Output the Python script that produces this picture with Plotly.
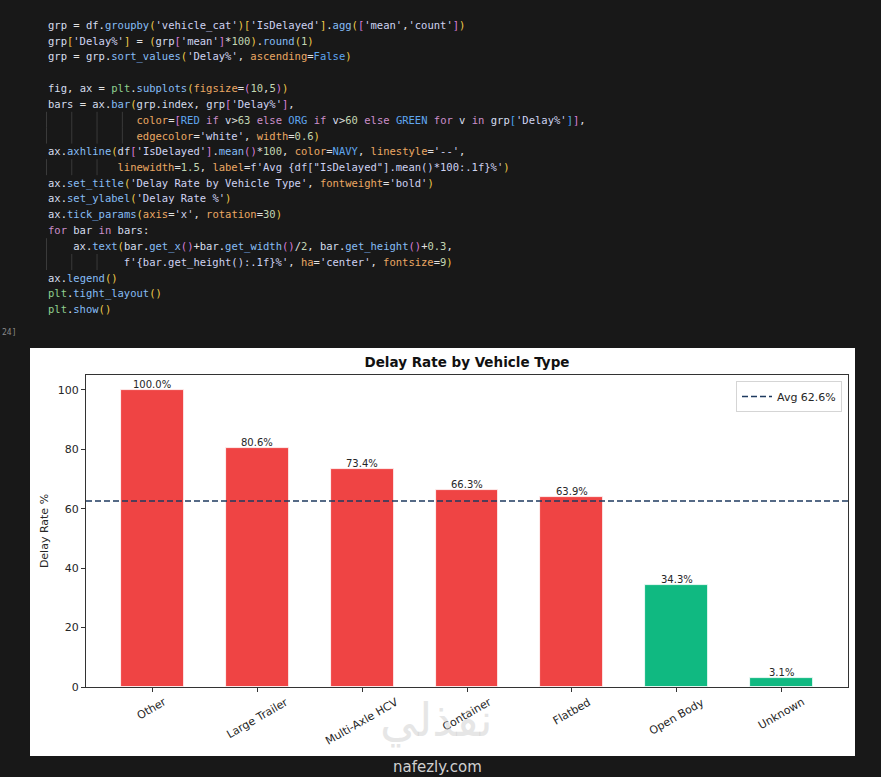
import re
import plotly.graph_objects as go

# data
categories = ['Other', 'Large Trailer', 'Multi-Axle HCV', 'Container', 'Flatbed', 'Open Body', 'Unknown']
delay_pct = [100.0, 80.6, 73.4, 66.3, 63.9, 34.3, 3.1]
avg_delay = 62.6

RED, ORG, GREEN, NAVY = '#EF4444', '#F59E0B', '#10B981', '#1E3A5F'
bar_colors = [RED if v > 63 else ORG if v > 60 else GREEN for v in delay_pct]

code_lines = [
    "grp = df.groupby('vehicle_cat')['IsDelayed'].agg(['mean','count'])",
    "grp['Delay%'] = (grp['mean']*100).round(1)",
    "grp = grp.sort_values('Delay%', ascending=False)",
    "",
    "fig, ax = plt.subplots(figsize=(10,5))",
    "bars = ax.bar(grp.index, grp['Delay%'],",
    "              color=[RED if v>63 else ORG if v>60 else GREEN for v in grp['Delay%']],",
    "              edgecolor='white', width=0.6)",
    "ax.axhline(df['IsDelayed'].mean()*100, color=NAVY, linestyle='--',",
    "           linewidth=1.5, label=f'Avg {df[\"IsDelayed\"].mean()*100:.1f}%')",
    "ax.set_title('Delay Rate by Vehicle Type', fontweight='bold')",
    "ax.set_ylabel('Delay Rate %')",
    "ax.tick_params(axis='x', rotation=30)",
    "for bar in bars:",
    "    ax.text(bar.get_x()+bar.get_width()/2, bar.get_height()+0.3,",
    "            f'{bar.get_height():.1f}%', ha='center', fontsize=9)",
    "ax.legend()",
    "plt.tight_layout()",
    "plt.show()",
]

# page geometry (pixels) -> paper coords of the plot area
W, H = 881, 777
L, R, T, B = 86, 848, 375, 687


def px(x):
    return (x - L) / (R - L)


def py(y):
    return (B - y) / (B - T)


# crude syntax colouring for the notebook cell
TOK = re.compile(r"(f?'[^']*'|\"[^\"]*\"|\d+\.?\d*|[A-Za-z_]\w*|\s+|.)")
KW = {'if', 'else', 'for', 'in'}
CONST = {'RED', 'ORG', 'GREEN', 'NAVY', 'False', 'True'}
BRK = ['#f0cc4a', '#da7fda', '#4aa8f5']
C_DEF, C_ID, C_FN, C_STR = '#e2e2e2', '#d6deee', '#86bdf5', '#cfd3f2'
C_NUM, C_KWARG, C_KW, C_CONST, C_MOD = '#c2d6b2', '#eba863', '#cc8fca', '#5fa6ef', '#8fd08f'

depth = 0


def colour_line(line):
    global depth
    toks = TOK.findall(line)
    out = []
    for i, t in enumerate(toks):
        if t.isspace():
            out.append('&nbsp;' * len(t))
            continue
        rest = [u for u in toks[i + 1:] if not u.isspace()]
        nxt = rest[0] if rest else ''
        nxt2 = rest[1] if len(rest) > 1 else ''
        if len(t) == 1 and t in '([{':
            col = BRK[depth % 3]
            depth += 1
        elif len(t) == 1 and t in ')]}':
            depth -= 1
            col = BRK[depth % 3]
        elif t[0] in "'\"" or t.startswith("f'"):
            col = C_STR
        elif t[0].isdigit():
            col = C_NUM
        elif t in KW:
            col = C_KW
        elif t in CONST:
            col = C_CONST
        elif t == 'plt':
            col = C_MOD
        elif re.match(r'[A-Za-z_]', t):
            if nxt == '(':
                col = C_FN
            elif nxt == '=' and nxt2 != '=' and depth > 0:
                col = C_KWARG
            else:
                col = C_ID
        else:
            col = C_DEF
        out.append(f'<span style="color:{col}">{t}</span>')
    return ''.join(out)


fig = go.Figure()

fig.add_trace(go.Bar(
    x=categories, y=delay_pct, width=0.6,
    marker=dict(color=bar_colors, line=dict(color='white', width=0.8)),
    showlegend=False, hoverinfo='skip',
))

fig.add_hline(y=avg_delay, line=dict(color=NAVY, width=1.5, dash='6px,3px'))
fig.add_trace(go.Scatter(
    x=[None], y=[None], mode='lines', name=f'Avg {avg_delay:.1f}%',
    line=dict(color=NAVY, width=1.5, dash='6px,3px'),
))

shapes = [
    # code cell
    dict(type='rect', xref='paper', yref='paper', x0=px(17), x1=px(895), y0=py(8), y1=py(340),
         fillcolor='#1f1f1f', line=dict(color='#303030', width=1), layer='below'),
    # output image background
    dict(type='rect', xref='paper', yref='paper', x0=px(30), x1=px(855), y0=py(348), y1=py(756),
         fillcolor='white', line=dict(width=0), layer='below'),
]

annotations = []
for i, line in enumerate(code_lines):
    y_line = 25 + i * 15.8
    indent = len(line) - len(line.lstrip(' '))
    for k in range(0, indent, 4):
        gx = 46.5 + k * 6.32
        shapes.append(dict(type='line', xref='paper', yref='paper', x0=px(gx), x1=px(gx),
                           y0=py(y_line - 8), y1=py(y_line + 8),
                           line=dict(color='#3a3a3a', width=1)))
    if not line.strip():
        continue
    annotations.append(dict(
        text=colour_line(line), xref='paper', yref='paper', x=px(46), y=py(y_line),
        xanchor='left', yanchor='middle', showarrow=False,
        font=dict(family='DejaVu Sans Mono', size=10.5, color=C_DEF),
    ))

annotations.append(dict(text='24]', xref='paper', yref='paper', x=px(1), y=py(332),
                        xanchor='left', yanchor='middle', showarrow=False, borderpad=0,
                        font=dict(family='DejaVu Sans Mono', size=8, color='#8a8a8a')))

# bar value labels
for c, v in zip(categories, delay_pct):
    annotations.append(dict(
        text=f'{v:.1f}%', x=c, y=v + 0.3, xref='x', yref='y',
        xanchor='center', yanchor='bottom', showarrow=False, borderpad=0, yshift=-2,
        font=dict(family='DejaVu Sans', size=10, color='#262626'),
    ))

# rotated x tick labels, centred on the tick like matplotlib
for c in categories:
    annotations.append(dict(
        text=c, x=c, y=0, xref='x', yref='paper', textangle=-30,
        xanchor='center', yanchor='top', showarrow=False, borderpad=0, yshift=-7,
        font=dict(family='DejaVu Sans', size=11, color='#262626'),
    ))

# watermark
annotations.append(dict(text='نفذلي', xref='paper', yref='paper', x=px(436), y=py(720),
                        xanchor='center', yanchor='middle', showarrow=False,
                        font=dict(family='DejaVu Sans', size=46, color='rgba(205,205,205,0.5)')))
annotations.append(dict(text='nafezly.com', xref='paper', yref='paper', x=px(437), y=py(767),
                        xanchor='center', yanchor='middle', showarrow=False,
                        font=dict(family='DejaVu Sans', size=15, color='#d0d0d0')))

fig.update_layout(
    width=W, height=H,
    margin=dict(l=L, r=W - R, t=T, b=H - B, pad=0),
    paper_bgcolor='#181818', plot_bgcolor='white',
    font=dict(family='DejaVu Sans', color='#262626'),
    title=dict(text='<b>Delay Rate by Vehicle Type</b>', x=0.5, xref='paper', xanchor='center',
               y=1 - 362 / H, yref='container', yanchor='middle',
               font=dict(family='DejaVu Sans', size=13.5, color='#111111')),
    shapes=shapes,
    annotations=annotations,
    legend=dict(x=px(842), y=py(381), xanchor='right', yanchor='top',
                bgcolor='white', bordercolor='#d5d5d5', borderwidth=1,
                font=dict(family='DejaVu Sans', size=11, color='#262626'),
                tracegroupgap=0, itemwidth=30),
    bargap=0,
)

fig.update_xaxes(range=[-0.63, 6.63], showticklabels=False, ticks='outside', ticklen=4,
                 tickcolor='#333', showline=True, mirror=True, linecolor='#333', linewidth=1,
                 showgrid=False, zeroline=False)
fig.update_yaxes(range=[0, 105], tickvals=[0, 20, 40, 60, 80, 100], ticks='outside', ticklen=4,
                 tickcolor='#333', tickfont=dict(size=11, color='#262626'),
                 showline=True, mirror=True, linecolor='#333', linewidth=1,
                 showgrid=False, zeroline=False,
                 title=dict(text='Delay Rate %', standoff=6, font=dict(size=11, color='#262626')))

# the page body has a default 8px margin; drop it so the figure fills the window
fig.write_html("out.html", config={'displayModeBar': False},
               post_script="document.body.style.margin='0';"
                           "document.body.style.background='#181818';")
